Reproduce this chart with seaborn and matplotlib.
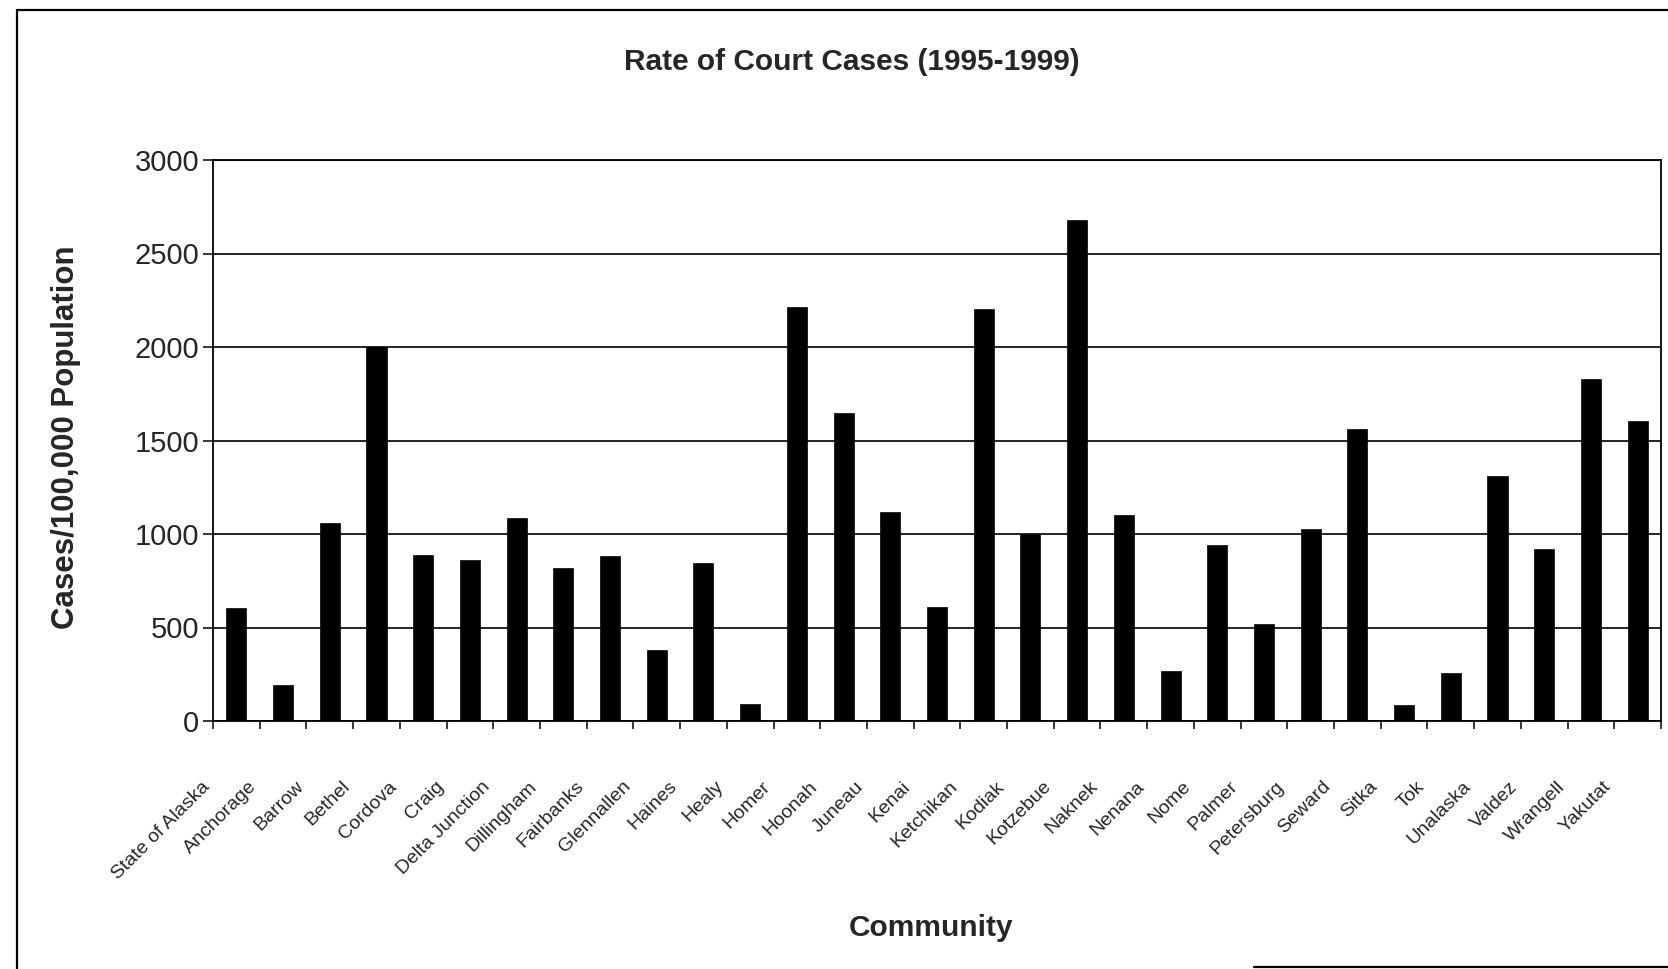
import matplotlib
matplotlib.use("Agg")
import matplotlib.pyplot as plt
from matplotlib.lines import Line2D
from matplotlib.transforms import ScaledTranslation
import seaborn as sns
import pandas as pd
import numpy as np

communities = ["State of Alaska", "Anchorage", "Barrow", "Bethel", "Cordova", "Craig",
               "Delta Junction", "Dillingham", "Fairbanks", "Glennallen", "Haines", "Healy",
               "Homer", "Hoonah", "Juneau", "Kenai", "Ketchikan", "Kodiak", "Kotzebue",
               "Naknek", "Nenana", "Nome", "Palmer", "Petersburg", "Seward", "Sitka", "Tok",
               "Unalaska", "Valdez", "Wrangell", "Yakutat"]
rates = [605, 190, 1060, 2000, 890, 860,
         1085, 820, 885, 380, 845, 90,
         2215, 1645, 1120, 608, 2205, 1000, 2678,
         1100, 265, 940, 520, 1025, 1560, 85, 255,
         1310, 920, 1828, 1605]
y_ticks = [0, 500, 1000, 1500, 2000, 2500, 3000]

title = "Rate of Court Cases (1995-1999)"
x_label = "Community"
y_label = "Cases/100,000 Population"

sns.set_theme(style="white")
plt.rcParams["font.family"] = ["Liberation Sans", "DejaVu Sans"]

W, H = 1668, 969
fig = plt.figure(figsize=(W / 100, H / 100), dpi=100)
fig.patch.set_facecolor("white")
ax = fig.add_axes([213 / W, 1 - 721 / H, (1661 - 213) / W, (721 - 160) / H])

df = pd.DataFrame({"Community": communities, "Rate": rates})
sns.barplot(data=df, x="Community", y="Rate", color="black", saturation=1,
            width=0.43, ax=ax, edgecolor="black", linewidth=0.5)

ax.set_xlim(-0.5, len(communities) - 0.5)
ax.set_ylim(0, 3000)
ax.set_yticks(y_ticks)
ax.set_yticklabels([str(v) for v in y_ticks], fontsize=21)
ax.set_xlabel("")
ax.set_ylabel("")
ax.yaxis.grid(True, color="black", linewidth=1.2)
ax.xaxis.grid(False)
ax.set_axisbelow(True)

for s in ax.spines.values():
    s.set_visible(True)
    s.set_color("black")
    s.set_linewidth(1.3)

# category labels
ax.set_xticks(range(len(communities)))
ax.set_xticklabels(communities, rotation=45, ha="right", va="top",
                   rotation_mode="anchor", fontsize=14)
ax.tick_params(axis="x", which="major", length=0, pad=41, bottom=True)
ax.set_xticks(np.arange(-0.5, len(communities), 1), minor=True)
ax.tick_params(axis="x", which="minor", length=6, width=1.1, direction="out",
               color="black", bottom=True)
ax.tick_params(axis="y", which="major", length=7, width=1.1, direction="out",
               color="black", left=True, pad=3)
off = ScaledTranslation(-35 / 100, 0, fig.dpi_scale_trans)
for lab in ax.get_xticklabels():
    lab.set_transform(lab.get_transform() + off)

fig.text(852 / W, 1 - 62 / H, title, ha="center", va="center",
         fontsize=21.5, fontweight="bold")
fig.text(66 / W, 1 - 437 / H, y_label, ha="center", va="center", rotation=90,
         fontsize=22.5, fontweight="bold")
fig.text(931 / W, 1 - 928 / H, x_label, ha="center", va="center",
         fontsize=21.5, fontweight="bold")

# scanned page frame
fig.add_artist(Line2D([17 / W, 17 / W], [0, 1 - 10 / H], transform=fig.transFigure,
                      color="black", linewidth=1.6))
fig.add_artist(Line2D([17 / W, 1], [1 - 10 / H, 1 - 10 / H], transform=fig.transFigure,
                      color="black", linewidth=1.6))
fig.add_artist(Line2D([1254 / W, 1], [1 - 967 / H, 1 - 967 / H], transform=fig.transFigure,
                      color="black", linewidth=1.6))

fig.savefig("out.png", dpi=100, facecolor="white")
